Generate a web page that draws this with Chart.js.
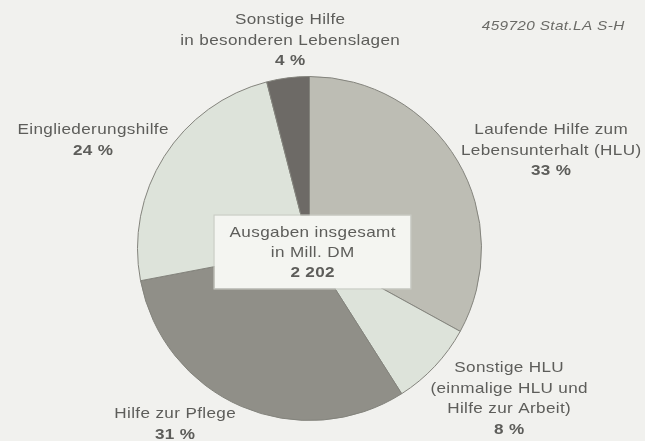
<!DOCTYPE html>
<html>
<head>
<meta charset="utf-8">
<script src="https://cdn.jsdelivr.net/npm/chart.js@4"></script>
<style>
  html, body { margin: 0; padding: 0; background: #f1f1ee; }
  #wrap { width: 645px; height: 441px; position: relative; }
</style>
</head>
<body>
<div id="wrap"><canvas id="chart1"></canvas></div>
<script>
// Ausgaben der Sozialhilfe nach Hilfearten, Anteile in %
const categories = [
  ['Laufende Hilfe zum', 'Lebensunterhalt (HLU)'],
  ['Sonstige HLU', '(einmalige HLU und', 'Hilfe zur Arbeit)'],
  ['Hilfe zur Pflege'],
  ['Eingliederungshilfe'],
  ['Sonstige Hilfe', 'in besonderen Lebenslagen']
];
const shares = [33, 8, 31, 24, 4];
const total = '2 202';
const colors = ['#bdbdb4', '#dde3da', '#908f88', '#dde3da', '#6d6a66'];

// label block position per slice (centre x, top y)
const labelPos = [
  [551, 130], [509, 368], [175, 414], [93, 130], [290, 20]
];

const textColor = '#5d5d5a';
const font = 'Liberation Sans, Arial, sans-serif';
const spacing = 0.3;
const stretch = 1.18;

// wide, slightly tracked lettering
function text(ctx, t, x, y) {
  ctx.save();
  ctx.translate(x, y);
  ctx.scale(stretch, 1);
  ctx.fillText(t, spacing / 2, 0);
  ctx.restore();
}

const labelsPlugin = {
  id: 'labels',
  afterDraw(chart) {
    const ctx = chart.ctx;
    ctx.save();
    ctx.textAlign = 'center';
    ctx.textBaseline = 'middle';
    ctx.letterSpacing = spacing + 'px';
    ctx.fillStyle = textColor;
    categories.forEach((lines, i) => {
      const [x, y] = labelPos[i];
      ctx.font = '14.5px ' + font;
      lines.forEach((t, k) => text(ctx, t, x, y + k * 20.5));
      ctx.font = 'bold 14.5px ' + font;
      text(ctx, shares[i] + ' %', x, y + lines.length * 20.5);
    });

    // Box mit Gesamtsumme in der Mitte
    const area = chart.chartArea;
    const cx = (area.left + area.right) / 2 + 3;
    const cy = (area.top + area.bottom) / 2 + 3;
    ctx.fillStyle = '#f4f5f1';
    ctx.strokeStyle = '#c9cbc4';
    ctx.lineWidth = 1;
    ctx.fillRect(cx - 98, cy - 36, 196, 73);
    ctx.strokeRect(cx - 98.5, cy - 36.5, 197, 74);
    ctx.fillStyle = textColor;
    ctx.font = '14.5px ' + font;
    text(ctx, 'Ausgaben insgesamt', cx, cy - 19);
    text(ctx, 'in Mill. DM', cx, cy + 1);
    ctx.font = 'bold 14.5px ' + font;
    text(ctx, total, cx, cy + 21);

    ctx.font = 'italic 13px ' + font;
    ctx.fillStyle = '#6a6a66';
    text(ctx, '459720 Stat.LA S-H', 553, 26);
    ctx.restore();
  }
};

const ctx1 = document.getElementById('chart1').getContext('2d');
new Chart(ctx1, {
  type: 'pie',
  data: {
    labels: categories.map(l => l.join(' ')),
    datasets: [{
      data: shares,
      backgroundColor: colors,
      borderColor: '#83837c',
      borderWidth: 1
    }]
  },
  options: {
    responsive: true,
    maintainAspectRatio: false,
    animation: false,
    layout: { padding: { left: 137, right: 163, top: 76, bottom: 20 } },
    plugins: {
      legend: { display: false },
      tooltip: { enabled: false }
    }
  },
  plugins: [labelsPlugin]
});
</script>
</body>
</html>
